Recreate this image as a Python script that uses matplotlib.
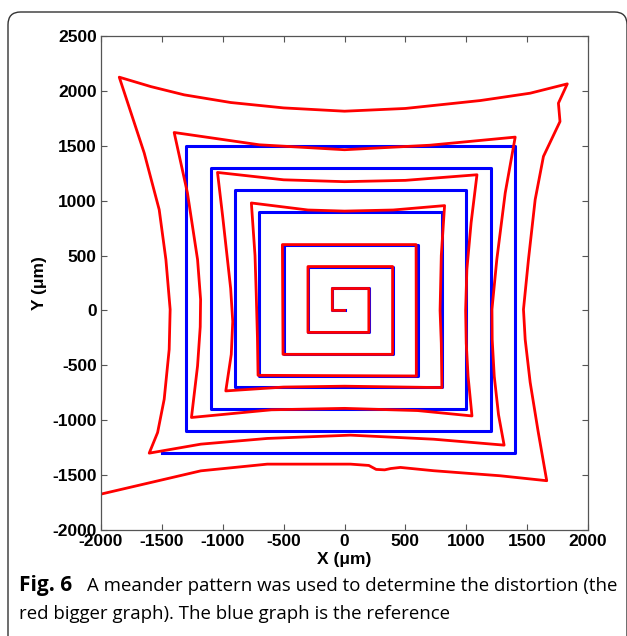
#!/usr/bin/env python3
"""Meander pattern: reference (blue) vs distorted (red) spiral."""

import matplotlib
matplotlib.use("Agg")
import matplotlib.pyplot as plt
from matplotlib.patches import FancyBboxPatch

OUTPUT_PNG = "out.png"

# reference meander (um)
blue_x = [0, -100, -100, 200, 200, -300, -300, 400, 400, -500, -500, 600, 600,
          -700, -700, 800, 800, -900, -900, 1000, 1000, -1100, -1100, 1200, 1200,
          -1300, -1300, 1400, 1400, -1500]
blue_y = [0, 0, 200, 200, -200, -200, 400, 400, -400, -400, 600, 600, -600,
          -600, 900, 900, -700, -700, 1100, 1100, -900, -900, 1300, 1300, -1100,
          -1100, 1500, 1500, -1300, -1300]

red_x = [0, -100, -100, 200, 200, -300, -300, 395, 395, -505, -510, 588, 590,
         -710, -715, -725, -735, -765,
         -300, 0, 400, 822,
         795, 785, 795, 800,
         0, -500, -975,
         -930, -918, -935, -965, -1000, -1043,
         -500, 0, 500, 1088,
         1040, 1005, 995, 1000, 1015, 1047,
         600, 0, -600, -1257,
         -1207, -1185, -1182, -1207, -1290, -1399,
         -700, 0, 700, 1402,
         1320, 1251, 1211, 1213, 1230, 1265, 1311,
         732, 49, -634, -1180, -1604,
         -1535, -1481, -1440, -1432, -1467, -1522, -1645, -1850,
         -1590, -1317, -934, -500, 0, 500, 1115, 1251, 1525, 1830,
         1757, 1770, 1634, 1566, 1511, 1470, 1484, 1525, 1590, 1661,
         1279, 732, 459, 380, 330, 260, 200, 49, -634, -1180, -2000, -2200]
red_y = [0, 0, 200, 200, -200, -200, 400, 400, -400, -400, 600, 600, -597,
         -591, -250, 150, 500, 979,
         915, 905, 915, 955,
         500, 0, -300, -703,
         -690, -698, -733,
         -400, -100, 200, 500, 850, 1257,
         1190, 1173, 1185, 1236,
         800, 373, 0, -300, -600, -961,
         -912, -892, -905, -975,
         -506, -150, 100, 464, 1070, 1621,
         1509, 1464, 1505, 1579,
         1070, 464, 9, -264, -600, -950, -1227,
         -1173, -1136, -1166, -1218, -1300,
         -1112, -809, -355, 9, 464, 918, 1434, 2125,
         2039, 1964, 1894, 1845, 1815, 1840, 1912, 1934, 1979, 2064,
         1888, 1721, 1403, 1009, 464, 9, -264, -655, -1100, -1551,
         -1506, -1460, -1430, -1440, -1452, -1448, -1412, -1400, -1400, -1461,
         -1673, -1720]

x_ticks = [-2000, -1500, -1000, -500, 0, 500, 1000, 1500, 2000]
y_ticks = [-2000, -1500, -1000, -500, 0, 500, 1000, 1500, 2000, 2500]

caption_1 = "A meander pattern was used to determine the distortion (the"
caption_2 = "red bigger graph). The blue graph is the reference"


def main() -> None:
    plt.rcParams.update({
        "font.family": ["Liberation Sans", "DejaVu Sans"],
        "axes.unicode_minus": False,
    })
    W, H = 627, 636
    fig = plt.figure(figsize=(W / 100, H / 100), dpi=100)

    # rounded frame around figure + caption
    frame = FancyBboxPatch((8 / W, (H - 650) / H), 619 / W, 638 / H,
                           boxstyle="round,pad=0,rounding_size=0.02",
                           transform=fig.transFigure, fill=False,
                           edgecolor="#333333", linewidth=1.0)
    fig.patches.append(frame)

    ax = fig.add_axes([101 / W, 1 - 530 / H, 487 / W, 494 / H])
    ax.plot(blue_x, blue_y, color="#0000ff", linewidth=2.2)
    ax.plot(red_x, red_y, color="#ff0000", linewidth=2.0)

    ax.set_xlim(-2000, 2000)
    ax.set_ylim(-2000, 2500)
    ax.set_xticks(x_ticks)
    ax.set_yticks(y_ticks)
    ax.tick_params(direction="in", length=4, width=0.8, color="#555555",
                   top=True, right=True, labelsize=12.5, pad=3)
    for lab in ax.get_xticklabels() + ax.get_yticklabels():
        lab.set_fontweight("bold")
    for sp in ax.spines.values():
        sp.set_color("#555555")
        sp.set_linewidth(0.9)

    ax.set_xlabel("X (μm)", fontsize=12.5, fontweight="bold", labelpad=2)
    ax.set_ylabel("Y (μm)", fontsize=12.5, fontweight="bold", labelpad=4)

    cap_font = ["Open Sans", "DejaVu Sans"]
    fig.text(19 / W, 1 - 591 / H, "Fig. 6", fontsize=15, fontweight="bold",
             family=cap_font, va="baseline", ha="left")
    fig.text(87 / W, 1 - 591 / H, caption_1, fontsize=13.4,
             family=cap_font, va="baseline", ha="left")
    fig.text(19 / W, 1 - 619 / H, caption_2, fontsize=13.4,
             family=cap_font, va="baseline", ha="left")

    fig.savefig(OUTPUT_PNG, dpi=100)
    plt.close(fig)


if __name__ == "__main__":
    main()
